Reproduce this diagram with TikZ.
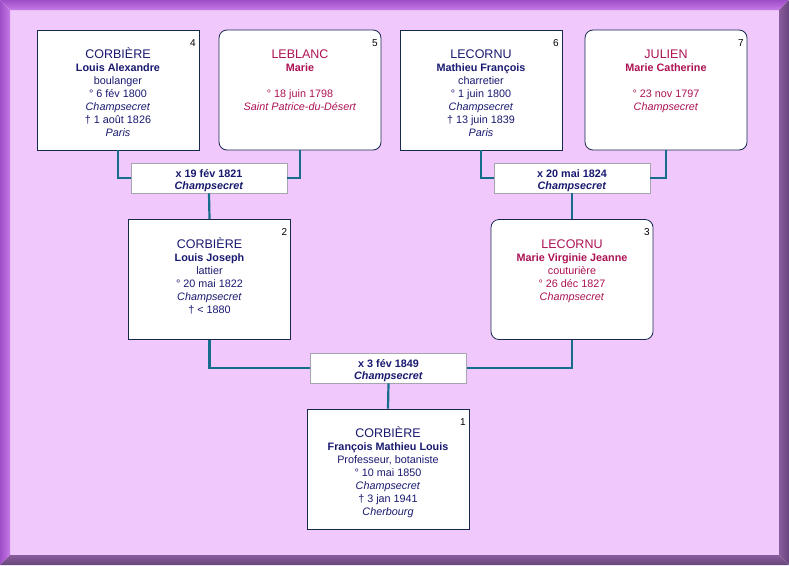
\documentclass[tikz,border=0pt]{standalone}
\usepackage{fontspec}
\setmainfont{Liberation Sans}
\usepackage{tikz}

\definecolor{homme}{RGB}{25,25,112}
\definecolor{femme}{RGB}{172,18,84}
\definecolor{cadre}{RGB}{22,40,78}
\definecolor{gris}{RGB}{165,165,175}
\definecolor{trait}{RGB}{22,108,140}
\definecolor{fond}{RGB}{240,200,252}
\definecolor{clairhaut}{RGB}{158,78,200}
\definecolor{clairbas}{RGB}{198,122,230}
\definecolor{sombrein}{RGB}{136,92,156}
\definecolor{sombreout}{RGB}{104,70,124}

\begin{document}
\begin{tikzpicture}[x=1pt,y=-1pt,
  person/.style={draw=cadre,line width=0.8pt,fill=white,minimum width=162pt,minimum height=120pt,inner sep=0pt},
  dame/.style={person,rounded corners=8pt},
  info/.style={anchor=north,align=center,inner sep=0pt,font=\fontsize{10.8}{13}\selectfont},
  num/.style={anchor=base east,inner sep=0pt,font=\fontsize{10}{12}\selectfont},
  mariage/.style={draw=gris,line width=0.8pt,fill=white,minimum width=156pt,minimum height=30pt,inner sep=0pt},
  date/.style={align=center,inner sep=0pt,text=homme,font=\bfseries\fontsize{10.8}{12.5}\selectfont},
  lien/.style={draw=trait,line width=2.2pt}]
  \useasboundingbox (0,0) rectangle (789,565);
  % frame
  \fill[fond] (10,10) rectangle (779,555);
  \shade[top color=clairhaut,bottom color=clairbas] (0,0) -- (789,0) -- (779,10) -- (10,10) -- cycle;
  \shade[left color=clairhaut,right color=clairbas] (0,0) -- (10,10) -- (10,555) -- (0,565) -- cycle;
  \shade[left color=sombrein,right color=sombreout] (789,0) -- (789,565) -- (779,555) -- (779,10) -- cycle;
  \shade[top color=sombrein,bottom color=sombreout] (0,565) -- (789,565) -- (779,555) -- (10,555) -- cycle;

  % grand-parents
  \node[person] (p4) at (118,90) {};
  \node[dame] (p5) at (300,90) {};
  \node[person] (p6) at (481,90) {};
  \node[dame] (p7) at (666,90) {};
  % parents
  \node[person] (p2) at (209.5,279.5) {};
  \node[dame] (p3) at (572,279.5) {};
  % sosa 1
  \node[person] (p1) at (388,469) {};

  \node[info,text=homme] (t4) at ([yshift=-17pt]p4.north) {{\fontsize{12.5}{13}\selectfont\rule{0pt}{12pt}CORBIÈRE}\\ \textbf{Louis Alexandre}\\ boulanger\\ ° 6 fév 1800\\ \textit{Champsecret}\\ † 1 août 1826\\ \textit{Paris}};
  \node[info,text=femme] (t5) at ([yshift=-17pt]p5.north) {{\fontsize{12.5}{13}\selectfont\rule{0pt}{12pt}LEBLANC}\\ \textbf{Marie}\\ \mbox{}\\ ° 18 juin 1798\\ \textit{Saint Patrice-du-Désert}};
  \node[info,text=homme] (t6) at ([yshift=-17pt]p6.north) {{\fontsize{12.5}{13}\selectfont\rule{0pt}{12pt}LECORNU}\\ \textbf{Mathieu François}\\ charretier\\ ° 1 juin 1800\\ \textit{Champsecret}\\ † 13 juin 1839\\ \textit{Paris}};
  \node[info,text=femme] (t7) at ([yshift=-17pt]p7.north) {{\fontsize{12.5}{13}\selectfont\rule{0pt}{12pt}JULIEN}\\ \textbf{Marie Catherine}\\ \mbox{}\\ ° 23 nov 1797\\ \textit{Champsecret}};
  \node[info,text=homme] (t2) at ([yshift=-17pt]p2.north) {{\fontsize{12.5}{13}\selectfont\rule{0pt}{12pt}CORBIÈRE}\\ \textbf{Louis Joseph}\\ lattier\\ ° 20 mai 1822\\ \textit{Champsecret}\\ † < 1880};
  \node[info,text=femme] (t3) at ([yshift=-17pt]p3.north) {{\fontsize{12.5}{13}\selectfont\rule{0pt}{12pt}LECORNU}\\ \textbf{Marie Virginie Jeanne}\\ couturière\\ ° 26 déc 1827\\ \textit{Champsecret}};
  \node[info,text=homme] (t1) at ([yshift=-17pt]p1.north) {{\fontsize{12.5}{13}\selectfont\rule{0pt}{12pt}CORBIÈRE}\\ \textbf{François Mathieu Louis}\\ Professeur, botaniste\\ ° 10 mai 1850\\ \textit{Champsecret}\\ † 3 jan 1941\\ \textit{Cherbourg}};

  \node[num] (n4) at ([xshift=-3.5pt,yshift=-16.5pt]p4.north east) {4};
  \node[num] (n5) at ([xshift=-3.5pt,yshift=-16.5pt]p5.north east) {5};
  \node[num] (n6) at ([xshift=-3.5pt,yshift=-16.5pt]p6.north east) {6};
  \node[num] (n7) at ([xshift=-3.5pt,yshift=-16.5pt]p7.north east) {7};
  \node[num] (n2) at ([xshift=-3.5pt,yshift=-16.5pt]p2.north east) {2};
  \node[num] (n3) at ([xshift=-3.5pt,yshift=-16.5pt]p3.north east) {3};
  \node[num] (n1) at ([xshift=-3.5pt,yshift=-16.5pt]p1.north east) {1};

  % mariages
  \node[mariage] (m1) at (209,178) {};
  \node[mariage] (m2) at (572,178) {};
  \node[mariage] (m3) at (388.5,368) {};
  \node[date] (d1) at ([yshift=-2.5pt]m1.center) {x 19 fév 1821\\ \textit{Champsecret}};
  \node[date] (d2) at ([yshift=-2.5pt]m2.center) {x 20 mai 1824\\ \textit{Champsecret}};
  \node[date] (d3) at ([yshift=-2.5pt]m3.center) {x 3 fév 1849\\ \textit{Champsecret}};

  \draw[lien] (p4.south) |- (m1.west);
  \draw[lien] (p5.south) |- (m1.east);
  \draw[lien] (m1.south) -- (p2.north);
  \draw[lien] (p6.south) |- (m2.west);
  \draw[lien] (p7.south) |- (m2.east);
  \draw[lien] (m2.south) -- (p3.north);
  \draw[lien] (p2.south) |- (m3.west);
  \draw[lien] (p3.south) |- (m3.east);
  \draw[lien] (m3.south) -- (p1.north);
\end{tikzpicture}
\end{document}
